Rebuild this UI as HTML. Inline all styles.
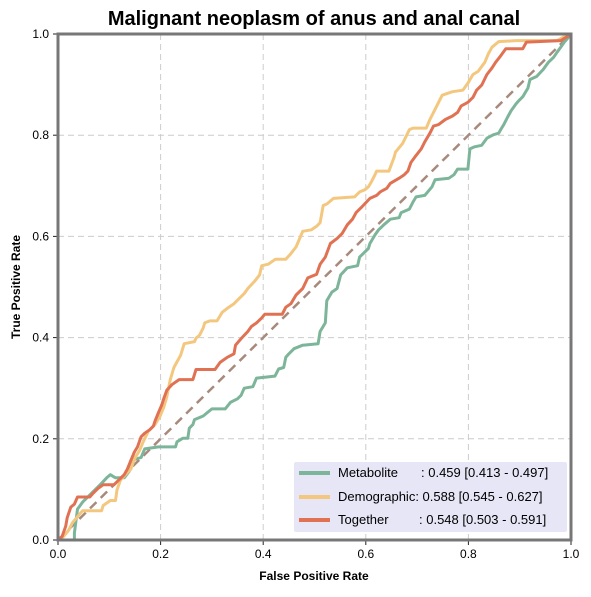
<!DOCTYPE html>
<html><head><meta charset="utf-8"><style>
body{margin:0;background:#fff;font-family:"Liberation Sans",Arial,sans-serif}
svg text{font-family:"Liberation Sans",Arial,sans-serif}
</style></head><body>
<svg id="chart" width="591" height="592" xmlns="http://www.w3.org/2000/svg">
<text x="314" y="25" text-anchor="middle" font-size="20" font-weight="bold">Malignant neoplasm of anus and anal canal</text>
<g id="grid"></g>
<g id="ticks"></g>
<g id="series"></g>
<rect x="58" y="34" width="513" height="506" fill="none" stroke="#777" stroke-width="3"/>
<text x="314" y="580" text-anchor="middle" font-size="12" font-weight="bold">False Positive Rate</text>
<text transform="translate(20,287) rotate(-90)" text-anchor="middle" font-size="12" font-weight="bold">True Positive Rate</text>
<g>
<rect x="294" y="462" width="273" height="70" fill="#e6e6f6" rx="2"/>
<line x1="299" y1="473" x2="330" y2="473" stroke="#7db59a" stroke-width="4"/>
<text x="338" y="477" font-size="13">Metabolite</text>
<text x="421" y="477" font-size="13">: 0.459 [0.413 - 0.497]</text>
<line x1="299" y1="497" x2="330" y2="497" stroke="#f4c77f" stroke-width="4"/>
<text x="338" y="501" font-size="13">Demographic: 0.588 [0.545 - 0.627]</text>
<line x1="299" y1="520" x2="330" y2="520" stroke="#e07253" stroke-width="4"/>
<text x="338" y="524" font-size="13">Together</text>
<text x="419" y="524" font-size="13">: 0.548 [0.503 - 0.591]</text>
</g>
</svg>
<script>
const ticks=[0,0.2,0.4,0.6,0.8,1.0];
const tickLabels=["0.0","0.2","0.4","0.6","0.8","1.0"];
const metFpr=[0,0.032,0.032,0.038,0.048,0.068,0.085,0.095,0.102,0.112,0.129,0.139,0.142,0.162,0.169,0.196,0.229,0.232,0.243,0.253,0.256,0.263,0.266,0.283,0.300,0.326,0.336,0.350,0.357,0.363,0.380,0.387,0.423,0.430,0.440,0.444,0.450,0.460,0.477,0.507,0.511,0.521,0.524,0.534,0.544,0.551,0.564,0.584,0.588,0.605,0.608,0.618,0.625,0.635,0.648,0.665,0.669,0.685,0.692,0.698,0.715,0.729,0.735,0.762,0.772,0.779,0.799,0.803,0.812,0.826,0.836,0.849,0.859,0.863,0.869,0.876,0.883,0.893,0.899,0.906,0.916,0.920,0.933,0.946,0.956,0.966,0.973,0.980,0.987,0.993,1];
const metTpr=[0,0,0.014,0.061,0.075,0.095,0.112,0.123,0.129,0.123,0.123,0.136,0.157,0.163,0.180,0.184,0.184,0.194,0.201,0.201,0.221,0.228,0.238,0.245,0.259,0.259,0.272,0.279,0.286,0.300,0.303,0.320,0.324,0.338,0.341,0.361,0.368,0.378,0.385,0.388,0.412,0.429,0.473,0.490,0.497,0.524,0.538,0.542,0.559,0.576,0.586,0.603,0.613,0.623,0.634,0.637,0.647,0.654,0.668,0.678,0.681,0.698,0.712,0.715,0.722,0.733,0.733,0.773,0.777,0.780,0.794,0.801,0.804,0.811,0.821,0.835,0.848,0.862,0.869,0.876,0.893,0.910,0.916,0.930,0.944,0.954,0.964,0.974,0.984,0.991,1];
const demFpr=[0,0.011,0.021,0.028,0.042,0.048,0.085,0.088,0.102,0.112,0.115,0.122,0.135,0.142,0.149,0.159,0.166,0.176,0.189,0.199,0.206,0.212,0.219,0.226,0.233,0.239,0.246,0.266,0.269,0.276,0.283,0.286,0.296,0.310,0.320,0.333,0.343,0.353,0.363,0.370,0.383,0.393,0.397,0.410,0.424,0.444,0.454,0.464,0.470,0.477,0.494,0.504,0.511,0.517,0.524,0.537,0.578,0.588,0.598,0.605,0.611,0.618,0.621,0.645,0.655,0.658,0.672,0.685,0.692,0.718,0.725,0.732,0.749,0.769,0.789,0.799,0.809,0.819,0.832,0.839,0.846,0.859,0.893,0.973,0.987,1];
const demTpr=[0,0.007,0.020,0.034,0.051,0.058,0.058,0.068,0.078,0.078,0.099,0.119,0.133,0.140,0.160,0.177,0.194,0.215,0.228,0.245,0.262,0.283,0.317,0.341,0.354,0.365,0.388,0.392,0.399,0.405,0.419,0.429,0.433,0.433,0.450,0.460,0.467,0.477,0.487,0.497,0.511,0.524,0.542,0.545,0.555,0.555,0.566,0.579,0.593,0.610,0.613,0.620,0.627,0.661,0.664,0.675,0.678,0.688,0.692,0.698,0.708,0.722,0.729,0.729,0.756,0.767,0.784,0.811,0.814,0.814,0.831,0.845,0.879,0.886,0.889,0.903,0.920,0.926,0.944,0.961,0.974,0.985,0.987,0.987,0.995,1];
const togFpr=[0,0.008,0.015,0.018,0.025,0.032,0.038,0.062,0.068,0.078,0.088,0.109,0.119,0.129,0.135,0.142,0.149,0.155,0.162,0.169,0.179,0.186,0.189,0.196,0.202,0.206,0.212,0.222,0.236,0.263,0.269,0.306,0.316,0.330,0.343,0.346,0.357,0.370,0.377,0.387,0.397,0.403,0.437,0.444,0.454,0.464,0.477,0.487,0.504,0.511,0.521,0.531,0.544,0.554,0.564,0.574,0.581,0.591,0.608,0.621,0.628,0.641,0.648,0.665,0.675,0.682,0.688,0.698,0.708,0.715,0.725,0.732,0.742,0.755,0.769,0.779,0.786,0.799,0.809,0.816,0.826,0.836,0.846,0.853,0.863,0.873,0.906,0.913,0.980,0.993,1];
const togTpr=[0,0.007,0.027,0.044,0.065,0.071,0.085,0.085,0.092,0.102,0.109,0.109,0.119,0.129,0.140,0.157,0.174,0.184,0.204,0.211,0.218,0.225,0.235,0.252,0.266,0.279,0.296,0.307,0.317,0.317,0.337,0.337,0.351,0.361,0.368,0.385,0.398,0.412,0.422,0.429,0.439,0.446,0.446,0.460,0.467,0.484,0.497,0.518,0.525,0.545,0.559,0.586,0.596,0.606,0.623,0.634,0.647,0.657,0.675,0.681,0.688,0.695,0.705,0.715,0.722,0.729,0.746,0.760,0.773,0.787,0.804,0.818,0.821,0.831,0.838,0.845,0.858,0.865,0.875,0.889,0.899,0.920,0.933,0.944,0.957,0.971,0.971,0.984,0.987,0.995,1];

const X0=58,X1=571,Y0=540,Y1=34;
const sx=v=>X0+v*(X1-X0), sy=v=>Y0-v*(Y0-Y1);
const NS="http://www.w3.org/2000/svg";
function mk(tag,attrs,parent){const e=document.createElementNS(NS,tag);for(const k in attrs)e.setAttribute(k,attrs[k]);parent.appendChild(e);return e;}
const grid=document.getElementById('grid'),tk=document.getElementById('ticks'),ser=document.getElementById('series');
ticks.forEach((t,i)=>{
  if(t>0&&t<1){
    const g1=mk('line',{x1:sx(t),x2:sx(t),y1:Y1,y2:Y0,stroke:'#ccc','stroke-dasharray':'6,4'},grid);
    
    
    const g2=mk('line',{x1:X0,x2:X1,y1:sy(t),y2:sy(t),stroke:'#ccc','stroke-dasharray':'6,4'},grid);
    
    
  }
  const xm=mk('line',{x1:sx(t),x2:sx(t),y1:Y0,y2:Y0+5,stroke:'#222','stroke-width':1},tk);
  
  
  const ym=mk('line',{x1:X0-5,x2:X0,y1:sy(t),y2:sy(t),stroke:'#222','stroke-width':1},tk);
  
  
  const xt=mk('text',{x:sx(t),y:Y0+18,'text-anchor':'middle','font-size':12},tk);xt.textContent=tickLabels[i];
  
  
  const yt=mk('text',{x:X0-9,y:sy(t)+4,'text-anchor':'end','font-size':12},tk);yt.textContent=tickLabels[i];
  
  
});
const diag=mk('line',{x1:sx(0),y1:sy(0),x2:sx(1),y2:sy(1),stroke:'#a88a7c','stroke-width':2.5,'stroke-dasharray':'9,6'},ser);


function line(fx,ty,color,name){
  const p=fx.map((v,i)=>sx(v).toFixed(1)+','+sy(ty[i]).toFixed(1)).join(' ');
  const e=mk('polyline',{points:p,fill:'none',stroke:color,'stroke-width':3,'stroke-linejoin':'round'},ser);
  
  
}
line(metFpr,metTpr,'#7db59a','metabolite-roc-curve');
line(demFpr,demTpr,'#f4c77f','demographic-roc-curve');
line(togFpr,togTpr,'#e07253','together-roc-curve');
</script>
</body></html>
